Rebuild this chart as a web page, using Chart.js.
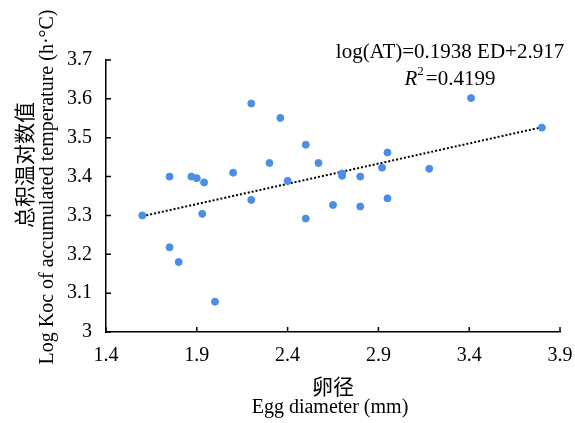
<!DOCTYPE html>
<html>
<head>
<meta charset="utf-8">
<script src="https://cdn.jsdelivr.net/npm/chart.js@4/dist/chart.umd.min.js"></script>
<style>
  html, body { margin: 0; padding: 0; background: #fff; }
</style>
</head>
<body>
<canvas id="chart" width="575" height="423"></canvas>
<script>
// egg diameter (mm) vs log of accumulated temperature
const eggDiameter = [1.60, 1.75, 1.75, 1.80, 1.87, 1.90, 1.94, 1.93, 2.00, 2.10,
  2.20, 2.20, 2.30, 2.36, 2.40, 2.50, 2.50, 2.57, 2.65, 2.70,
  2.70, 2.80, 2.80, 2.92, 2.95, 2.95, 3.18, 3.41, 3.80]
const logAT = [3.300, 3.400, 3.218, 3.180, 3.400, 3.396, 3.385, 3.304, 3.078, 3.410,
  3.588, 3.340, 3.435, 3.551, 3.389, 3.482, 3.292, 3.435, 3.327, 3.408,
  3.402, 3.400, 3.323, 3.423, 3.462, 3.344, 3.420, 3.602, 3.526]

// trend line as drawn in the figure
const trendX = [1.60, 3.80]
const trendY = [3.298, 3.527]

const xTicks = [1.4, 1.9, 2.4, 2.9, 3.4, 3.9]
const xTickLabels = ['1.4', '1.9', '2.4', '2.9', '3.4', '3.9']
const yTicks = [3.0, 3.1, 3.2, 3.3, 3.4, 3.5, 3.6, 3.7]
const yTickLabels = ['3', '3.1', '3.2', '3.3', '3.4', '3.5', '3.6', '3.7']

const xTitle = ['卵径', 'Egg diameter (mm)']
const yTitle = ['总积温对数值', 'Log Koc of accumulated temperature (h·°C)']
const equationText = 'log(AT)=0.1938 ED+2.917'
const r2Text = '=0.4199'

const serif = "'Liberation Serif', 'DejaVu Serif', serif"
const cjk = "'Noto Sans CJK SC', serif"

// ticks point into the plot area, so they are drawn here
const innerTicks = {
  id: 'innerTicks',
  afterDatasetsDraw (chart) {
    const ctx = chart.ctx
    const xs = chart.scales.x, ys = chart.scales.y
    const area = chart.chartArea
    ctx.save()
    ctx.strokeStyle = '#000'
    ctx.lineWidth = 1.5
    ctx.beginPath()
    xTicks.forEach(v => {
      let px = xs.getPixelForValue(v)
      ctx.moveTo(px, area.bottom)
      ctx.lineTo(px, area.bottom - 5)
    })
    yTicks.forEach(v => {
      let py = ys.getPixelForValue(v)
      ctx.moveTo(area.left, py)
      ctx.lineTo(area.left + 5, py)
    })
    ctx.stroke()
    ctx.restore()
  }
}

const textPlugin = {
  id: 'texts',
  afterDraw (chart) {
    const ctx = chart.ctx
    ctx.save()
    ctx.fillStyle = '#000'
    ctx.textBaseline = 'middle'
    ctx.textAlign = 'center'

    // equation
    ctx.font = '21px ' + serif
    ctx.fillText(equationText, 450, 52)
    ctx.font = 'italic 21px ' + serif
    let wR = ctx.measureText('R').width
    ctx.font = '13px ' + serif
    let w2 = ctx.measureText('2').width
    ctx.font = '21px ' + serif
    let wRest = ctx.measureText(r2Text).width
    let x = 450 - (wR + w2 + 2 + wRest) / 2
    ctx.textAlign = 'left'
    ctx.font = 'italic 21px ' + serif
    ctx.fillText('R', x, 79)
    ctx.font = '13px ' + serif
    ctx.fillText('2', x + wR, 72)
    ctx.font = '21px ' + serif
    ctx.fillText(r2Text, x + wR + w2 + 2, 79)

    // x axis title
    ctx.textAlign = 'center'
    ctx.font = '21px ' + cjk
    ctx.fillText(xTitle[0], 333, 386)
    ctx.font = '20px ' + serif
    ctx.fillText(xTitle[1], 330, 408)

    // y axis title
    ctx.save()
    ctx.translate(24, 165)
    ctx.rotate(-Math.PI / 2)
    ctx.font = '21px ' + cjk
    ctx.fillText(yTitle[0], 0, 0)
    ctx.restore()
    ctx.save()
    ctx.translate(48, 187)
    ctx.rotate(-Math.PI / 2)
    ctx.font = '20px ' + serif
    ctx.fillText(yTitle[1], 0, 0)
    ctx.restore()

    ctx.restore()
  }
}

new Chart(document.getElementById('chart'), {
  type: 'scatter',
  data: {
    datasets: [
      {
        label: 'data',
        data: eggDiameter.map((x, i) => ({ x: x, y: logAT[i] })),
        backgroundColor: '#4a8ee6',
        borderColor: '#4a8ee6',
        pointRadius: 3.5,
        pointHoverRadius: 3.5
      },
      {
        label: 'trend',
        type: 'line',
        data: trendX.map((x, i) => ({ x: x, y: trendY[i] })),
        borderColor: '#000',
        borderWidth: 2,
        borderDash: [2, 2],
        pointRadius: 0,
        fill: false
      }
    ]
  },
  options: {
    responsive: false,
    animation: false,
    layout: { padding: { top: 60, right: 15, left: 0, bottom: 0 } },
    plugins: {
      legend: { display: false },
      tooltip: { enabled: false }
    },
    scales: {
      x: {
        type: 'linear',
        min: 1.4,
        max: 3.9,
        afterBuildTicks: (scale) => { scale.ticks = xTicks.map(v => ({ value: v })) },
        afterFit: (scale) => {
          scale.height = 91
          scale.paddingLeft = 0
          scale.paddingRight = 0
        },
        ticks: {
          color: '#000',
          font: { family: serif, size: 20 },
          padding: 12,
          maxRotation: 0,
          callback: (value, index) => xTickLabels[index]
        },
        grid: { display: false, drawTicks: false },
        border: { display: true, color: '#000', width: 1.5 }
      },
      y: {
        type: 'linear',
        min: 3.0,
        max: 3.7,
        afterBuildTicks: (scale) => { scale.ticks = yTicks.map(v => ({ value: v })) },
        afterFit: (scale) => {
          scale.width = 106
          scale.paddingTop = 0
          scale.paddingBottom = 0
        },
        ticks: {
          color: '#000',
          font: { family: serif, size: 20 },
          padding: 14,
          callback: (value, index) => yTickLabels[index]
        },
        grid: { display: false, drawTicks: false },
        border: { display: true, color: '#000', width: 1.5 }
      }
    }
  },
  plugins: [innerTicks, textPlugin]
})
</script>
</body>
</html>
